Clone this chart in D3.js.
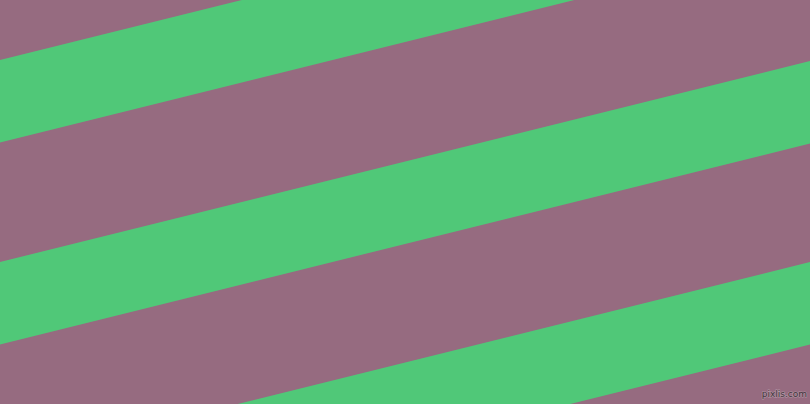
<!DOCTYPE html>
<html>
<head>
<meta charset="utf-8">
<script src="https://cdn.jsdelivr.net/npm/d3@7"></script>
<style>
  html, body { margin: 0; padding: 0; background: #966b80; }
  svg { display: block; }
</style>
</head>
<body>
<svg id="chart"></svg>
<script>
// stripe top edge where it meets the left side, and where it meets the right side
const stripeLeftTop = [60, 262, 463];
const stripeRightTop = [-141, 61, 262];
const stripeThickness = [82.5, 82.5, 82.5];
const watermark = ["pixlis.com"];

const width = 810;
const height = 404;

const x = d3.scaleLinear().domain([0, 810]).range([0, width]);
const y = d3.scaleLinear().domain([0, 404]).range([0, height]);

const svg = d3.select("#chart").attr("width", width).attr("height", height);

svg
  .append("rect")
  .attr("width", width)
  .attr("height", height)
  .attr("fill", "#966b80");

const stripes = stripeLeftTop.map((d, i) => ({
  left: d,
  right: stripeRightTop[i],
  thick: stripeThickness[i],
}));

svg
  .append("g")
  .attr("fill", "#50c878")
  .selectAll("path")
  .data(stripes)
  .join("path")
  .attr("d", (d) =>
    d3.line()([
      [x(0), y(d.left)],
      [x(810), y(d.right)],
      [x(810), y(d.right + d.thick)],
      [x(0), y(d.left + d.thick)],
    ]) + "Z"
  );

svg
  .append("text")
  .attr("x", width - 3)
  .attr("y", height - 7)
  .attr("text-anchor", "end")
  .style("font-family", "DejaVu Sans, sans-serif")
  .style("font-size", "9px")
  .style("paint-order", "stroke")
  .style("fill", "#3f3139")
  .style("stroke", "#b296a4")
  .style("stroke-width", 1.2)
  .text(watermark[0]);
</script>
</body>
</html>
